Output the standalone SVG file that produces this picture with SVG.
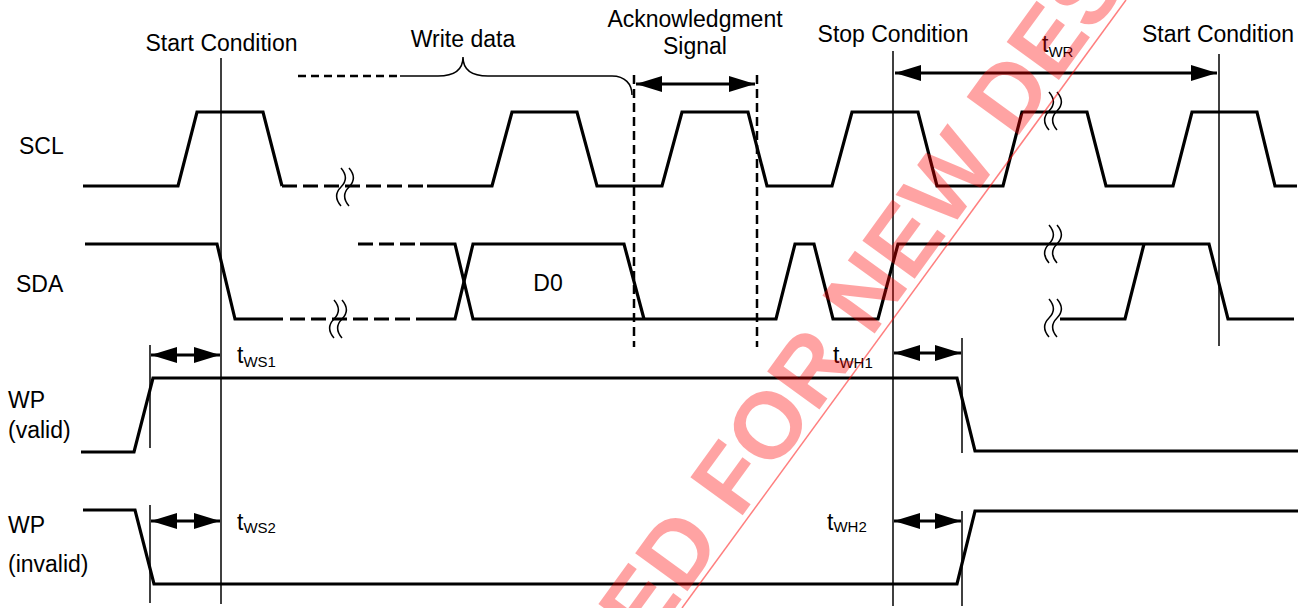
<svg xmlns="http://www.w3.org/2000/svg" width="1311" height="608" viewBox="0 0 1311 608">
<style>
text{font-family:"Liberation Sans",Arial,sans-serif;fill:#000}
.lbl{font-size:23px}
.mid{text-anchor:middle}
.sub{font-size:15px}
.sig{fill:none;stroke:#000;stroke-width:3.2;stroke-linejoin:miter;stroke-linecap:butt}
.dsh{stroke-dasharray:15 6}
.thin{fill:none;stroke:#000;stroke-width:1.5}
.vd{fill:none;stroke:#000;stroke-width:2.5;stroke-dasharray:9 5}
.arr{fill:none;stroke:#000;stroke-width:3;marker-start:url(#ah);marker-end:url(#ah)}
.brk{fill:none;stroke:#000;stroke-width:1.5}
</style>
<defs>
<marker id="ah" viewBox="0 0 26 16" refX="26" refY="8" markerWidth="26" markerHeight="16" markerUnits="userSpaceOnUse" orient="auto-start-reverse">
<path d="M0,0 L26,8 L0,16 z" fill="#000"/>
</marker>
<path id="squig" d="M-4,-19 C2,-12 2,-6 -4,0 C-10,6 -10,12 -4,19 M4,-19 C10,-12 10,-6 4,0 C-2,6 -2,12 4,19"/>
</defs>

<g id="labels">
<text class="lbl" x="19" y="154">SCL</text>
<text class="lbl" x="16" y="292">SDA</text>
<text class="lbl" x="8" y="408">WP</text>
<text class="lbl" x="8" y="438">(valid)</text>
<text class="lbl" x="8" y="533">WP</text>
<text class="lbl" x="8" y="572">(invalid)</text>
<text class="lbl mid" x="221.5" y="51">Start Condition</text>
<text class="lbl mid" x="463" y="47">Write data</text>
<text class="lbl mid" x="695" y="27">Acknowledgment</text>
<text class="lbl mid" x="695" y="54">Signal</text>
<text class="lbl mid" x="893" y="42">Stop Condition</text>
<text class="lbl mid" x="1218" y="42">Start Condition</text>
</g>

<g id="scl">
<path class="sig" d="M83,186 L178,186 L197,112 L263,112 L282,186"/>
<path class="sig dsh" d="M282,186 L427,186"/>
<path class="sig" d="M427,186 L492,186 L512,112 L577,112 L597,186 L662,186 L682,112 L748,112 L767,186 L832,186 L852,112 L918,112 L937,186 L1003,186 L1022,112 L1087,112 L1106,186 L1173,186 L1192,112 L1257,112 L1275,186 L1297,186"/>
<use href="#squig" class="brk" x="345" y="187"/>
<use href="#squig" class="brk" x="1053" y="111"/>
</g>

<g id="sda">
<path class="sig" d="M85,244 L217,244 L235,319 L283,319"/>
<path class="sig dsh" d="M290,319 L425,319"/>
<path class="sig dsh" d="M358,244 L420,244"/>
<path class="sig" d="M420,244 L455,244 L473,319 L776,319 L795,244 L814,244 L833,319 L878,319 L898,244 L1209,244 L1228,319 L1294,319"/>
<path class="sig" d="M425,319 L455,319 L473,244 L624,244 L644,319"/>
<path class="sig" d="M1060,319 L1125,319 L1144,244"/>
<text class="lbl mid" x="548" y="291">D0</text>
<use href="#squig" class="brk" x="338" y="319"/>
<use href="#squig" class="brk" x="1053" y="244"/>
<use href="#squig" class="brk" x="1053" y="318"/>
</g>

<g id="wp-valid">
<path class="sig" d="M81,452 L134,452 L153,378 L957,378 L975,451 L1298,451"/>
</g>

<g id="wp-invalid">
<path class="sig" d="M83,510 L135,510 L154,584 L957,584 L975,511 L1298,511"/>
</g>

<g id="write-data-brace">
<path class="vd" d="M298,76 L400,76" style="stroke-dasharray:8 5;stroke-width:2.4"/>
<path class="thin" d="M400,76 L438,76 C455,76 463,70 463,57 C463,70 471,76 488,76 L612,76 C625,76 632,84 632,95"/>
</g>

<g id="timing-lines">
<line class="thin" x1="221" y1="58" x2="221" y2="604"/>
<line class="thin" x1="893" y1="51" x2="893" y2="606"/>
<line class="thin" x1="1219" y1="54" x2="1219" y2="346"/>
<line class="thin" x1="150" y1="345" x2="150" y2="448"/>
<line class="thin" x1="150" y1="505" x2="150" y2="603"/>
<line class="thin" x1="962" y1="338" x2="962" y2="453"/>
<line class="thin" x1="962" y1="511" x2="962" y2="606"/>
<line class="vd" x1="634" y1="75" x2="634" y2="347"/>
<line class="vd" x1="757" y1="75" x2="757" y2="347"/>
</g>

<g id="connectors">
<line class="arr" x1="636" y1="84" x2="755" y2="84"/>
<line class="arr" x1="895" y1="73" x2="1217" y2="73"/>
<line class="arr" x1="151" y1="355" x2="220" y2="355"/>
<line class="arr" x1="151" y1="521" x2="220" y2="521"/>
<line class="arr" x1="894" y1="353" x2="961" y2="353"/>
<line class="arr" x1="894" y1="521" x2="961" y2="521"/>
</g>

<g id="timing-labels">
<text class="lbl" x="1042" y="52">t<tspan class="sub" dy="5">WR</tspan></text>
<text class="lbl" x="237" y="363">t<tspan class="sub" dy="4">WS1</tspan></text>
<text class="lbl" x="237" y="530">t<tspan class="sub" dy="3">WS2</tspan></text>
<text class="lbl" x="833" y="363">t<tspan class="sub" dy="5">WH1</tspan></text>
<text class="lbl" x="827" y="530">t<tspan class="sub" dy="2">WH2</tspan></text>
</g>

<g id="watermark">
<text x="647" y="647" transform="rotate(-54 647 647)" style="font-size:94px;font-weight:bold;fill:#ff0000;fill-opacity:0.36">ED FOR NEW DES</text>
<line x1="682" y1="608" x2="1126" y2="0" stroke="#ff0000" stroke-opacity="0.5" stroke-width="1.5"/>
</g>
</svg>
